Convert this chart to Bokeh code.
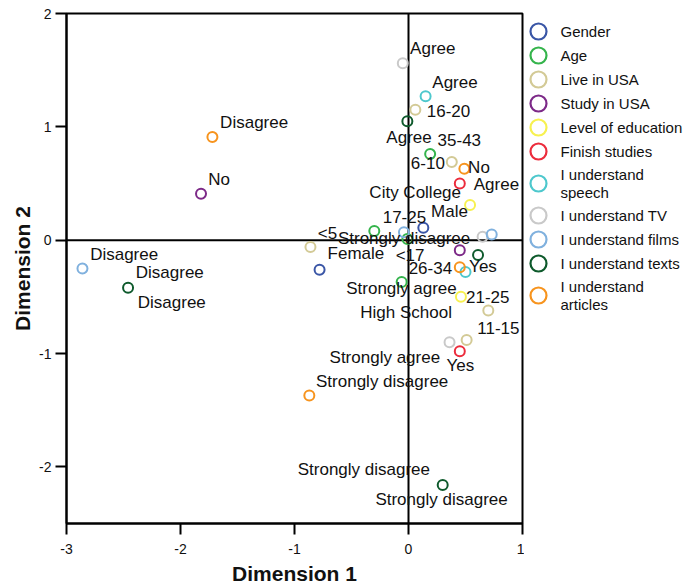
from bokeh.plotting import figure
from bokeh.models import Range1d, Span, FixedTicker, ColumnDataSource
from bokeh.layouts import row
from bokeh.embed import file_html
from bokeh.resources import INLINE
from bokeh.core.properties import value

# ---------------- data ----------------
categories = ["Gender", "Age", "Live in USA", "Study in USA", "Level of education",
              "Finish studies", "I understand\nspeech", "I understand TV",
              "I understand films", "I understand texts", "I understand\narticles"]
colors = ["#3a56a6", "#35b44c", "#d3ca96", "#7d2a88", "#f7f150", "#ec2c3c",
          "#4ec8cd", "#c9c9c9", "#80b1de", "#0e5a2c", "#f7941e"]

gender_x = [0.13, -0.78]
gender_y = [0.11, -0.26]
gender_lab = ["Male", "Female"]

age_x = [-0.30, 0.19, -0.06, -0.01]
age_y = [0.08, 0.76, -0.37, 0.01]
age_lab = ["17-25", "35-43", "26-34", "<17"]

live_x = [0.06, 0.38, -0.86, 0.70, 0.51]
live_y = [1.15, 0.69, -0.06, -0.62, -0.88]
live_lab = ["16-20", "6-10", "<5", "21-25", "11-15"]

study_x = [-1.82, 0.45]
study_y = [0.41, -0.09]
study_lab = ["No", "Yes"]

edu_x = [0.54, 0.46]
edu_y = [0.31, -0.50]
edu_lab = ["City College", "High School"]

finish_x = [0.45, 0.45]
finish_y = [0.50, -0.98]
finish_lab = ["No", "Yes"]

speech_x = [0.15, 0.50]
speech_y = [1.27, -0.28]
speech_lab = ["Agree", "Strongly agree"]

tv_x = [-0.05, 0.65, 0.36]
tv_y = [1.56, 0.03, -0.90]
tv_lab = ["Agree", "", "Strongly agree"]

films_x = [-2.86, -0.04, 0.73]
films_y = [-0.25, 0.07, 0.05]
films_lab = ["Disagree", "Strongly disagree", ""]

texts_x = [-0.01, -2.46, 0.61, 0.30]
texts_y = [1.05, -0.42, -0.13, -2.16]
texts_lab = ["Agree", "Disagree", "", "Strongly disagree"]

articles_x = [-1.72, 0.49, 0.45, -0.87]
articles_y = [0.91, 0.63, -0.24, -1.37]
articles_lab = ["Disagree", "Agree", "", "Strongly disagree"]

series_x = [gender_x, age_x, live_x, study_x, edu_x, finish_x, speech_x, tv_x, films_x, texts_x, articles_x]
series_y = [gender_y, age_y, live_y, study_y, edu_y, finish_y, speech_y, tv_y, films_y, texts_y, articles_y]
series_lab = [gender_lab, age_lab, live_lab, study_lab, edu_lab, finish_lab, speech_lab, tv_lab, films_lab, texts_lab, articles_lab]

# extra labels attached to an existing point: (series index, point index, text)
extra_labels = [(9, 1, "Disagree"), (9, 3, "Strongly disagree")]

x_ticks = [-3, -2, -1, 0, 1]
x_tick_labels = ["-3", "-2", "-1", "0", "1"]
y_ticks = [-2, -1, 0, 1, 2]
y_tick_labels = ["-2", "-1", "0", "1", "2"]

# ---------------- label placement (screen px offsets, left-middle anchor) ----------------
label_offsets = [
    [(7.7, -16.2), (8, -16)],
    [(8.4, -14), (7.4, -14.3), (7, -14.3), (-11.7, 16.7)],
    [(11.4, 0.7), (-41, 1), (7.3, -13.4), (-22.3, -13.3), (10.6, -12)],
    [(7.3, -14.3), (9.3, 16.4)],
    [(-100.7, -13), (-100.7, 15.6)],
    [(8.3, -15.6), (-13.3, 14.3)],
    [(6.7, -14), (-119.3, 16.6)],
    [(7.3, -14.7), (0, 0), (-120, 15)],
    [(7.7, -14.4), (-66, 6.6), (0, 0)],
    [(-21, 16.6), (7.7, -15), (0, 0), (-145, -15)],
    [(7.7, -14.4), (9.4, 15.7), (0, 0), (6.7, -14.3)],
]
extra_offsets = [(9.7, 15), (-67.3, 15)]

FW, FH = 456, 510
X0, X1, Y0, Y1 = -3, 1, -2.5, 2
PX = FW / (X1 - X0)
PY = FH / (Y1 - Y0)
FONT = "Liberation Sans"
TOP, LEFT, BOTTOM, RIGHT = 13, 66, 58, 2

p = figure(frame_width=FW, frame_height=FH, x_range=Range1d(X0, X1), y_range=Range1d(Y0, Y1),
           toolbar_location=None, output_backend="svg",
           min_border_left=LEFT, min_border_right=RIGHT, min_border_top=TOP, min_border_bottom=BOTTOM,
           x_axis_label="Dimension 1", y_axis_label="Dimension 2")
p.xgrid.visible = False
p.ygrid.visible = False
p.outline_line_color = "black"
p.outline_line_width = 2
p.background_fill_color = "white"
p.border_fill_color = "white"

p.xaxis.ticker = FixedTicker(ticks=x_ticks)
p.yaxis.ticker = FixedTicker(ticks=y_ticks)
p.xaxis.major_label_overrides = dict(zip(x_ticks, x_tick_labels))
p.yaxis.major_label_overrides = dict(zip(y_ticks, y_tick_labels))
for ax in (p.xaxis[0], p.yaxis[0]):
    ax.axis_line_width = 2
    ax.axis_line_color = "black"
    ax.major_tick_line_width = 2
    ax.major_tick_line_color = "black"
    ax.major_tick_out = 11
    ax.major_tick_in = 0
    ax.minor_tick_line_color = None
    ax.major_label_text_font = FONT
    ax.major_label_text_font_size = "14px"
    ax.major_label_text_color = "#111111"
    ax.axis_label_text_font = FONT
    ax.axis_label_text_font_style = "bold"
    ax.axis_label_text_font_size = "21px"
    ax.axis_label_text_color = "#111111"
p.xaxis.major_label_standoff = 9
p.xaxis.axis_label_standoff = 5
p.yaxis.major_label_standoff = 4
p.yaxis.axis_label_standoff = 2

p.add_layout(Span(location=0, dimension="height", line_color="black", line_width=2, level="underlay"))
p.add_layout(Span(location=0, dimension="width", line_color="black", line_width=2, level="underlay"))

lx, ly, lt = [], [], []
for i in range(len(categories)):
    src = ColumnDataSource(dict(x=series_x[i], y=series_y[i]))
    p.scatter("x", "y", source=src, size=10, line_width=2, line_color=colors[i], fill_color=None)
    for j, lab in enumerate(series_lab[i]):
        if lab:
            dx, dy = label_offsets[i][j]
            lx.append(series_x[i][j] + dx / PX)
            ly.append(series_y[i][j] - dy / PY)
            lt.append(lab)
for (i, j, lab), (dx, dy) in zip(extra_labels, extra_offsets):
    lx.append(series_x[i][j] + dx / PX)
    ly.append(series_y[i][j] - dy / PY)
    lt.append(lab)

p.text(x="x", y="y", text="t", source=ColumnDataSource(dict(x=lx, y=ly, t=lt)),
       text_font=value(FONT), text_font_size="17px", text_color="#111111",
       text_align="left", text_baseline="middle")

# ---------------- legend (separate panel, same frame rows as the plot) ----------------
LW = 160
lg = figure(width=LW, frame_height=FH, x_range=Range1d(0, LW), y_range=Range1d(TOP + FH, TOP),
            toolbar_location=None, output_backend="svg",
            min_border_left=0, min_border_right=0, min_border_top=TOP, min_border_bottom=BOTTOM,
            x_axis_location=None, y_axis_location=None)
lg.outline_line_color = None
lg.xgrid.visible = False
lg.ygrid.visible = False

heights = [40 if "\n" in c else 24 for c in categories]
centers = []
cur = 31 - heights[0] / 2
for h in heights:
    centers.append(cur + h / 2)
    cur += h
lsrc = ColumnDataSource(dict(x=[14] * len(categories), tx=[36] * len(categories), y=centers,
                             c=colors, t=categories))
lg.scatter("x", "y", source=lsrc, size=16, line_width=2.2, line_color="c", fill_color=None)
lg.text(x="tx", y="y", text="t", source=lsrc, text_font=value(FONT), text_font_size="15px",
        text_color="#111111", text_align="left", text_baseline="middle", text_line_height=1.1)

layout = row(p, lg)
open("out.html", "w").write(file_html(layout, INLINE))
